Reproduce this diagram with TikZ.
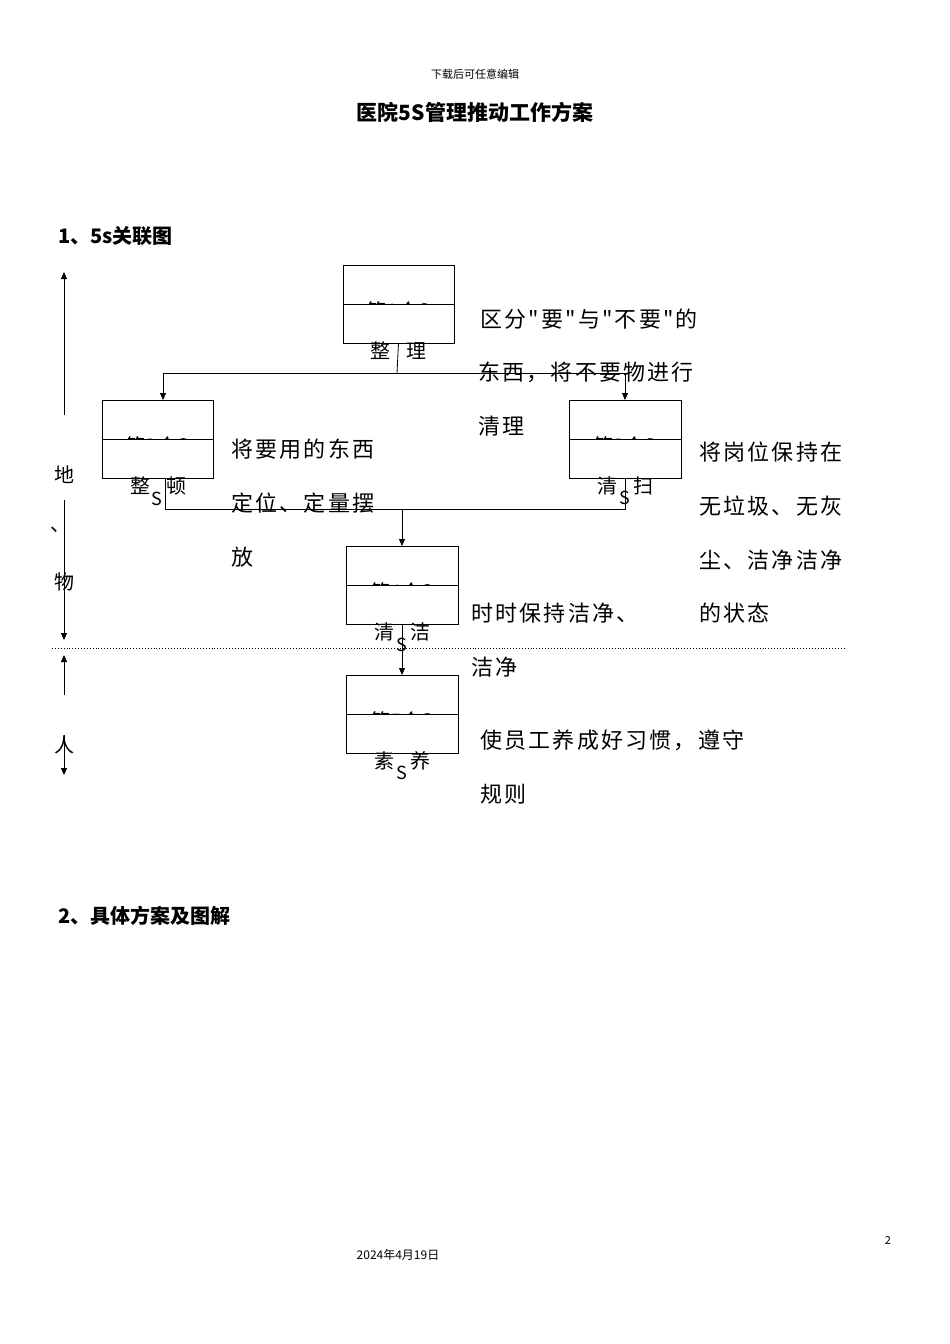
\documentclass[tikz,border=0pt]{standalone}
\usepackage{fontspec}
\setmainfont{Noto Sans CJK SC}
\newfontfamily\descfont[LetterSpace=10]{Noto Sans CJK SC}
\usetikzlibrary{arrows.meta}
\begin{document}
\begin{tikzpicture}[x=1pt,y=-1pt,
  box/.style={draw,line width=0.8pt},
  desc/.style={anchor=west,inner sep=0pt,font=\descfont\fontsize{22}{22}\selectfont},
  lab/.style={inner sep=0pt,font=\fontsize{20}{20}\selectfont},
  ess/.style={inner sep=0pt,font=\fontsize{18}{18}\selectfont},
  ar/.style={-{Triangle[length=7pt,width=6pt]},line width=0.8pt},
  ln/.style={line width=0.8pt}]
\useasboundingbox[fill=white] (0,0) rectangle (950,1344);
\node[inner sep=0pt,font=\fontsize{11}{11}\selectfont] (hdr) at (475,74) {下载后可任意编辑};
\node[inner sep=0pt,font=\bfseries\fontsize{21}{21}\selectfont] (title) at (475,112) {医院5S管理推动工作方案};
\node[anchor=west,inner sep=0pt,font=\bfseries\fontsize{20}{20}\selectfont] (h1) at (58,236) {1、5s关联图};
\node[anchor=west,inner sep=0pt,font=\bfseries\fontsize{20}{20}\selectfont] (h2) at (58,916) {2、具体方案及图解};
\node[inner sep=0pt,font=\fontsize{11}{11}\selectfont] (pg) at (888,1240) {2};
\node[inner sep=0pt,font=\fontsize{12}{12}\selectfont] (date) at (398,1255) {2024年4月19日};
% boxes
\newcommand{\myssbox}[5]{% name, x1, y1, x2, number
  \draw[box] (#2,#3) rectangle (#4,#3+78);
  \draw[box] (#2,#3+39) -- (#4,#3+39);
  \coordinate (#1t) at ({(#2+#4)/2},#3);
  \coordinate (#1b) at ({(#2+#4)/2},#3+78);
  \begin{scope}
  \clip (#2,#3) rectangle (#4,#3+39);
  \node[lab] at ({(#2+#4)/2},#3+46) {第#5个S};
  \end{scope}}
\myssbox{b1}{343}{265}{454}{1}
\myssbox{b2}{102}{400}{213}{2}
\myssbox{b3}{569}{400}{681}{3}
\myssbox{b4}{346}{546}{458}{4}
\myssbox{b5}{346}{675}{458}{5}
% labels under boxes
\node[lab] (l1) at (398,351) {整\hspace{0.8em}理};
\node[lab] (l2) at (158,486) {整\hspace{0.8em}顿};
\node[ess] (s2) at (157,499) {S};
\node[lab] (l3) at (625,486) {清\hspace{0.8em}扫};
\node[ess] (s3) at (625,498) {S};
\node[lab] (l4) at (402,632) {清\hspace{0.8em}洁};
\node[ess] (s4) at (402,645) {S};
\node[lab] (l5) at (402,761) {素\hspace{0.8em}养};
\node[ess] (s5) at (402,773) {S};
% connectors
\coordinate (j1) at (397,373);
\coordinate (jl) at (163,373);
\coordinate (jr) at (625,373);
\draw[ln] (b1b) -- (j1);
\draw[ln] (jl) -- (jr);
\draw[ar] (jl) -- (163,400);
\draw[ar] (jr) -- (625,400);
\coordinate (k1) at (165,509);
\coordinate (k2) at (625,509);
\coordinate (k3) at (402,509);
\draw[ln] (165,478) -- (k1) -- (k2) -- (625,478);
\draw[ar] (k3) -- (b4t);
\draw[ar] (b4b) -- (b5t);
% descriptions
\node[desc] (d1a) at (480,319) {区分"要"与"不要"的};
\node[desc] (d1b) at (478,372) {东西，将不要物进行};
\node[desc] (d1c) at (478,426) {清理};
\node[desc] (d2a) at (231,449) {将要用的东西};
\node[desc] (d2b) at (231,503) {定位、定量摆};
\node[desc] (d2c) at (231,557) {放};
\node[desc] (d3a) at (699,452) {将岗位保持在};
\node[desc] (d3b) at (699,506) {无垃圾、无灰};
\node[desc] (d3c) at (699,560) {尘、洁净洁净};
\node[desc] (d3d) at (699,613) {的状态};
\node[desc] (d4a) at (471,613) {时时保持洁净、};
\node[desc] (d4b) at (471,667) {洁净};
\node[desc] (d5a) at (480,740) {使员工养成好习惯，遵守};
\node[desc] (d5b) at (480,794) {规则};
% left axis
\node[lab] (di) at (64,475) {地};
\node[lab] (dun) at (60,530) {、};
\node[lab] (wu) at (64,582) {物};
\node[lab] (ren) at (64,745) {人};
\draw[ar] (64,415) -- (64,272);
\draw[ar] (64,500) -- (64,640);
\draw[ar] (64,695) -- (64,655);
\draw[ar] (64,735) -- (64,775);
\draw[dotted,line width=0.9pt] (52,648) -- (845,648);
\end{tikzpicture}
\end{document}
